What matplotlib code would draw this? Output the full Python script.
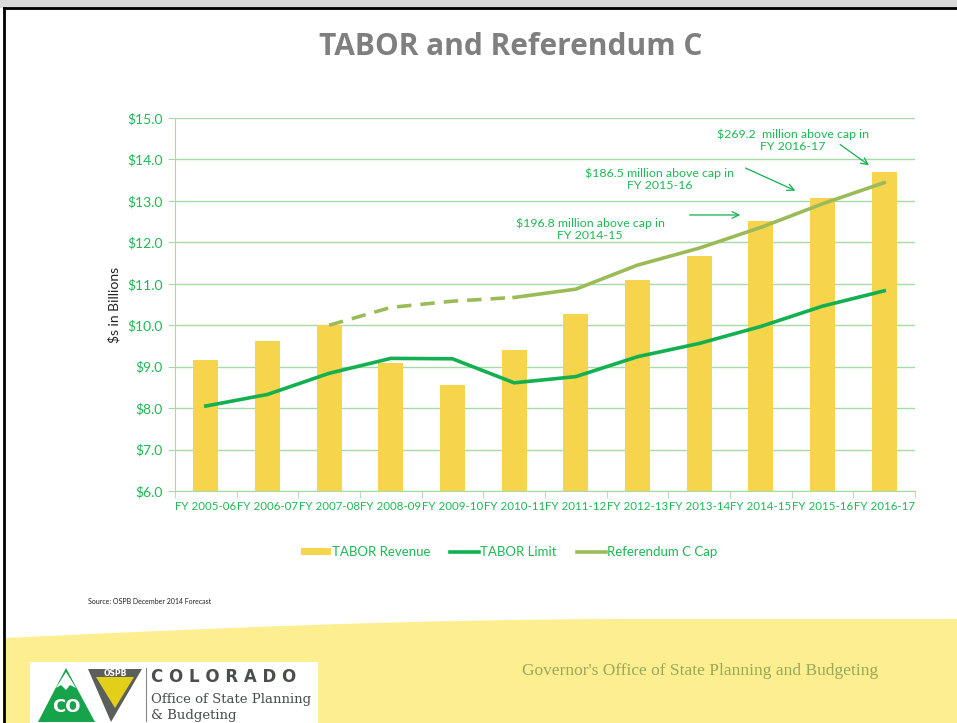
import numpy as np
import matplotlib
matplotlib.use('Agg')
import matplotlib.pyplot as plt
from matplotlib.patches import Polygon, Rectangle

# data, $ billions
years = ['FY 2005-06', 'FY 2006-07', 'FY 2007-08', 'FY 2008-09', 'FY 2009-10', 'FY 2010-11',
         'FY 2011-12', 'FY 2012-13', 'FY 2013-14', 'FY 2014-15', 'FY 2015-16', 'FY 2016-17']
tabor_revenue = [9.15, 9.63, 10.00, 9.08, 8.55, 9.40, 10.26, 11.09, 11.68, 12.52, 13.06, 13.70]
tabor_limit = [8.05, 8.33, 8.84, 9.20, 9.19, 8.61, 8.76, 9.24, 9.56, 9.97, 10.46, 10.83]
ref_c_cap = [np.nan, np.nan, 10.00, 10.43, 10.58, 10.67, 10.87, 11.45, 11.86, 12.36, 12.93, 13.44]
notes = ['$196.8 million above cap in\nFY 2014-15',
         '$186.5 million above cap in\nFY 2015-16',
         '$269.2  million above cap in\nFY 2016-17']

GREEN = '#12b050'
TEXT_GREEN = '#1db954'
OLIVE = '#9bbb59'
YELLOW = '#f6d44c'
GRID = '#a6dba9'
FONT = 'Lato'

W, H = 957, 723
fig = plt.figure(figsize=(W / 100, H / 100), dpi=100)

# background layer in pixel coords
bg = fig.add_axes([0, 0, 1, 1], zorder=0)
bg.set_xlim(0, W)
bg.set_ylim(H, 0)
bg.axis('off')
bg.add_patch(Rectangle((0, 0), W, 7, color='#d9d9d9'))
bg.plot([4, W], [8, 8], color='black', lw=2)
bg.plot([4, 4], [8, H], color='black', lw=2)
xs = np.linspace(5, W, 200)
wave = 638 - 19 * np.sin(np.clip((xs - 5) / 640, 0, 1) * np.pi / 2)
bg.add_patch(Polygon(np.column_stack([np.r_[xs, W, 5], np.r_[wave, H, H]]),
                     closed=True, color='#fdee8f', lw=0))
bg.text(88, 602, 'Source: OSPB December 2014 Forecast', fontsize=5, family=FONT,
        color='#222222', va='center')
bg.text(700, 671, "Governor's Office of State Planning and Budgeting", fontsize=12.5,
        family='Liberation Serif', color='#9aa85a', ha='center', va='center')

# logo
bg.add_patch(Rectangle((30, 662), 288, 62, color='white', lw=0))
bg.add_patch(Polygon([[38, 722], [66, 668], [95, 722]], closed=True, color='#16a34a', lw=0))
bg.add_patch(Polygon([[56, 688], [66, 672], [76, 688], [70, 685], [66, 690], [61, 685]],
                     closed=True, color='white', lw=0))
bg.text(66, 707, 'CO', fontsize=13, weight='bold', color='white', ha='center', va='center',
        family='DejaVu Sans')
bg.add_patch(Polygon([[88, 669], [142, 669], [111, 722]], closed=True, color='#5a5f5c', lw=0))
bg.add_patch(Polygon([[96, 677], [134, 677], [115, 708]], closed=True, color='#e3cf1a', lw=0))
bg.text(115, 673, 'OSPB', fontsize=5.5, weight='bold', color='white', ha='center', va='center',
        family='DejaVu Sans')
bg.plot([146, 146], [668, 721], color='#888888', lw=0.8)
bg.text(151, 677, 'C O L O R A D O', fontsize=12, weight='bold', color='#4a4f4c', va='center',
        family='DejaVu Sans')
bg.text(151, 700, 'Office of State Planning', fontsize=9.5, color='#4a4f4c', va='center',
        family='DejaVu Serif')
bg.text(151, 716, '& Budgeting', fontsize=9.5, color='#4a4f4c', va='center',
        family='DejaVu Serif')

# title
fig.text(511 / W, 1 - 47 / H, 'TABOR and Referendum C', fontsize=21.5, weight='bold',
         color='#7f7f7f', ha='center', va='center', family='Open Sans')

# main chart
ax = fig.add_axes([175 / W, 1 - 491 / H, 740 / W, 373 / H], zorder=2)
ax.patch.set_alpha(0)
x = np.arange(len(years))
bars = ax.bar(x, tabor_revenue, width=0.41, color=YELLOW, zorder=2)
limit_line, = ax.plot(x, tabor_limit, color=GREEN, lw=2.6, zorder=3)
cap = np.array(ref_c_cap)
ax.plot(x[2:6], cap[2:6], color=OLIVE, lw=2.6, dashes=(4, 2.5), zorder=3)
cap_line, = ax.plot(x[5:], cap[5:], color=OLIVE, lw=2.6, zorder=3)

ax.set_xlim(-0.5, len(years) - 0.5)
ax.set_ylim(6, 15)
ax.set_yticks(np.arange(6, 16, 1))
ax.set_yticklabels(['${:.1f}'.format(v) for v in np.arange(6, 16, 1)])
ax.yaxis.grid(True, color=GRID, lw=1)
ax.set_axisbelow(True)
ax.set_xticks(x)
ax.set_xticklabels(years)
ax.set_xticks(np.arange(-0.5, len(years), 1), minor=True)
ax.tick_params(axis='x', which='major', length=0, pad=7, labelsize=8.3, labelcolor=TEXT_GREEN)
ax.tick_params(axis='x', which='minor', length=5, color=GRID)
ax.tick_params(axis='y', length=5, color=GRID, labelsize=10, labelcolor=TEXT_GREEN, pad=4)
for lab in ax.get_xticklabels() + ax.get_yticklabels():
    lab.set_family(FONT)
for s in ['top', 'right']:
    ax.spines[s].set_visible(False)
ax.spines['left'].set_color(GRID)
ax.spines['bottom'].set_color(GRID)
ax.set_ylabel('$s in Billions', fontsize=10, family=FONT, color='#222222', labelpad=5)

# annotations
ann = [((6.23, 12.32), (7.80, 12.66), (8.71, 12.66)),
       ((7.36, 13.52), (8.71, 13.82), (9.60, 13.22)),
       ((9.52, 14.47), (10.25, 14.40), (10.79, 13.82))]
for note, (tpos, start, tip) in zip(notes, ann):
    ax.text(tpos[0], tpos[1], note, fontsize=8.9, family=FONT, color=TEXT_GREEN,
            ha='center', va='center', linespacing=1.15, zorder=4)
    ax.annotate('', xy=tip, xytext=start,
                arrowprops=dict(arrowstyle='->', color=GREEN, lw=0.9, mutation_scale=12))

leg = ax.legend([bars, limit_line, cap_line], ['TABOR Revenue', 'TABOR Limit', 'Referendum C Cap'],
                loc='upper center', bbox_to_anchor=(0.452, -0.115), ncol=3, frameon=False,
                prop={'family': FONT, 'size': 9.5}, handlelength=2.2, handleheight=0.45,
                handletextpad=0.1, columnspacing=1.5)
for t in leg.get_texts():
    t.set_color(TEXT_GREEN)

fig.savefig('out.png', dpi=100)
